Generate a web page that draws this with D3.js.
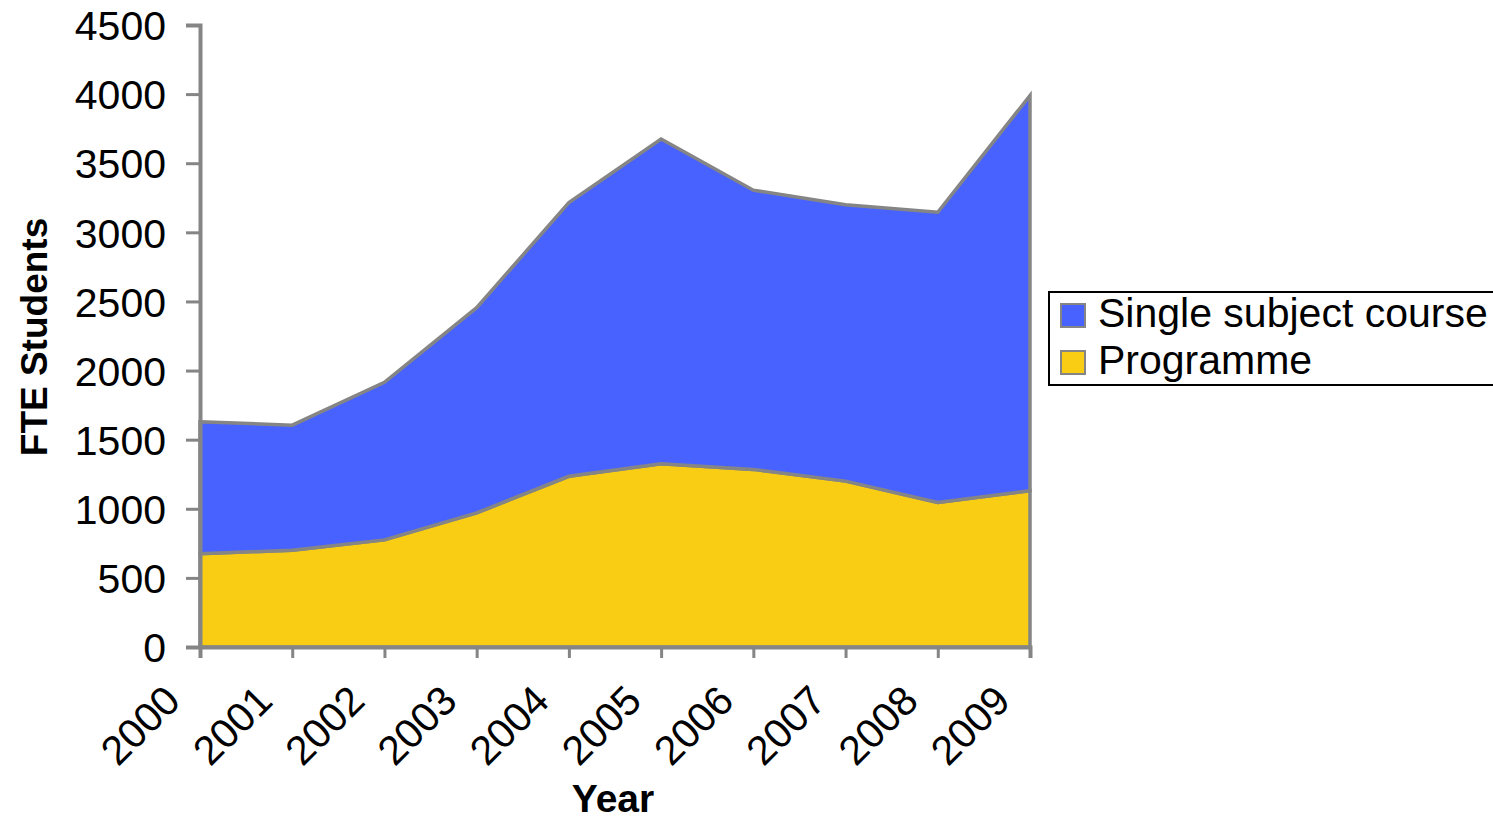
<!DOCTYPE html>
<html>
<head>
<meta charset="utf-8">
<script src="https://cdn.jsdelivr.net/npm/d3@7"></script>
<style>
  html, body { margin: 0; padding: 0; background: #ffffff; }
  svg { display: block; font-family: "Liberation Sans", Arial, sans-serif; }
</style>
</head>
<body>
<svg id="chart" width="1493" height="821"></svg>
<script>
const years = [2000, 2001, 2002, 2003, 2004, 2005, 2006, 2007, 2008, 2009];
const programme = [675, 700, 775, 970, 1235, 1325, 1285, 1200, 1045, 1130];
const singleSubject = [955, 905, 1140, 1485, 1980, 2350, 2020, 2000, 2100, 2860];
const yTicks = [0, 500, 1000, 1500, 2000, 2500, 3000, 3500, 4000, 4500];
const seriesNames = ["Single subject course", "Programme"];
const seriesColors = ["#4862FF", "#F8CD14"];

const svg = d3.select("#chart");
const x = d3.scaleLinear().domain([2000, 2009]).range([200, 1030]);
const y = d3.scaleLinear().domain([0, 4500]).range([647, 25]);
const axisGrey = "#858585";

const table = years.map((yr, i) => ({ year: yr, Programme: programme[i], Single: singleSubject[i] }));
const stack = d3.stack().keys(["Programme", "Single"]);
const layers = stack(table);
const fills = { Programme: seriesColors[1], Single: seriesColors[0] };

const area = d3.area()
  .x(d => x(d.data.year))
  .y0(d => y(d[0]))
  .y1(d => y(d[1]));

svg.append("g").selectAll("path")
  .data(layers)
  .join("path")
  .attr("d", area)
  .attr("fill", d => fills[d.key])
  .attr("stroke", axisGrey)
  .attr("stroke-width", 3.5)
  .attr("stroke-linejoin", "miter");

// Y axis
const yAxis = d3.axisLeft(y).tickValues(yTicks).tickSize(14).tickPadding(20).tickFormat(d3.format("d"));
const gy = svg.append("g").attr("transform", "translate(200,0)").call(yAxis);
gy.select(".domain").attr("stroke", axisGrey).attr("stroke-width", 4);
gy.selectAll(".tick line").attr("stroke", axisGrey).attr("stroke-width", 3);
gy.selectAll(".tick text").attr("fill", "#000").style("font-size", "41px").attr("dy", "0.36em");

// X axis
const xAxis = d3.axisBottom(x).tickValues(years).tickSize(11).tickFormat(d3.format("d"));
const gx = svg.append("g").attr("transform", "translate(0,647)").call(xAxis);
gx.select(".domain").attr("stroke", axisGrey).attr("stroke-width", 4);
gx.selectAll(".tick line").attr("stroke", axisGrey).attr("stroke-width", 3);
gx.selectAll(".tick text")
  .attr("fill", "#000")
  .style("font-size", "41px")
  .attr("text-anchor", "end")
  .attr("x", 0).attr("y", 0).attr("dy", 0)
  .attr("transform", "translate(-18,56) rotate(-45)");

svg.selectAll(".domain").attr("fill", "none");

// Axis titles
svg.append("text")
  .attr("transform", "translate(47,337) rotate(-90)")
  .attr("text-anchor", "middle")
  .style("font-size", "37px").style("font-weight", "bold")
  .text("FTE Students");

svg.append("text")
  .attr("x", 613).attr("y", 812)
  .attr("text-anchor", "middle")
  .style("font-size", "39px").style("font-weight", "bold")
  .text("Year");

// Legend
const lg = svg.append("g");
lg.append("rect")
  .attr("x", 1049).attr("y", 292).attr("width", 460).attr("height", 93)
  .attr("fill", "#fff").attr("stroke", "#000").attr("stroke-width", 2);
seriesNames.forEach((name, i) => {
  const yy = 304 + i * 47;
  lg.append("rect")
    .attr("x", 1061).attr("y", yy).attr("width", 24).attr("height", 23)
    .attr("fill", seriesColors[i]).attr("stroke", axisGrey).attr("stroke-width", 2);
  lg.append("text")
    .attr("x", 1098).attr("y", yy + 23)
    .style("font-size", "41px")
    .text(name);
});
</script>
</body>
</html>
